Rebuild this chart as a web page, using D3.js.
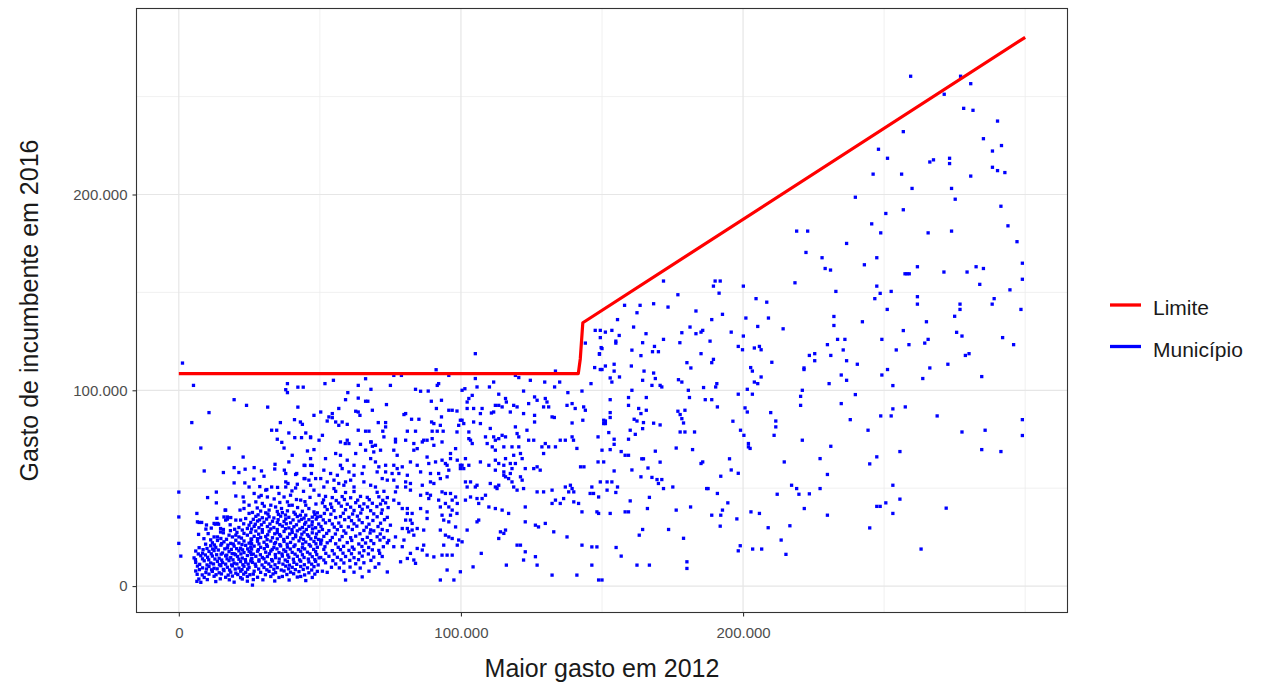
<!DOCTYPE html>
<html>
<head>
<meta charset="utf-8">
<script src="https://cdn.jsdelivr.net/npm/d3@7"></script>
<style>
  body { margin: 0; background: #fff; }
  svg { display: block; }
  text { font-family: "Liberation Sans", Arial, sans-serif; }
</style>
</head>
<body>
<svg id="chart" width="1263" height="686"></svg>
<script>
// Values in R$ thousand: [maior gasto em 2012, gasto do incumbente em 2016]
const municipios = [
  [1.3,113.9],[5.2,102.5],[19.6,95.2],[24,92.3],[10.7,88.6],[4.6,83.5],[31.5,91.4],[38.5,103.4],[37.9,100.3],[38.5,98.8],
  [42.2,101.6],[44.1,101.6],[42.2,91.4],[47.9,87.2],[41,85],[43.1,83.8],[43.8,82.6],[36,83.5],[32.9,79.6],[34.7,79.6],
  [39,78.2],[41.1,75.8],[43.5,75.8],[45,78.2],[46.7,75.8],[34.9,75],[36.5,73.4],[37.3,70.5],[7.8,70.5],[17.8,70.5],
  [22.8,65.9],[40.2,66.8],[39,63.4],[45.6,69],[46.7,65.1],[47.9,69.7],[9,58.8],[15.8,58],[19.6,60.5],[21.3,58],
  [23.5,59.7],[26.7,60.5],[29.3,58.8],[30.2,56.1],[34.1,62.2],[34,59.8],[37.4,59.2],[37.9,57.5],[19.6,52.7],[23.4,52.7],
  [26.6,54.6],[31.2,49.3],[32.9,50.6],[0,48],[13.3,48],[10.2,45.2],[20.2,46],[22.8,45.5],[0,35.3],[0,21.8],
  [0.7,15.3],[6.4,37.1],[7.2,32.5],[8.1,32.5],[7,26.4],[9.6,29.1],[12.9,31.6],[14.1,31.6],[16.6,38.8],[17.2,35.3],
  [16.6,33.7],[41.4,57],[44.7,61.6],[47.3,61.6],[44.7,54.9],[47,57.5],
  [24.9,50.6],[13.3,42.5],[23.1,43],[24.9,41.3],[23.1,39.6],[21.7,38.8],[16.4,38.8],[16,35.3],[17.2,34.2],[18.4,35],
  [20.2,33.7],[21.9,33.7],[23.7,34.5],[24.9,37.1],[6.6,32.8],[12.5,32],[13.7,32],[15.8,28.9],[15.8,27.2],[21.3,29.9],
  [22.5,28.6],[24.3,29.4],[24.9,31.1],[12.5,25.1],[13.7,25.1],[14.9,24.3],[17.8,26],[19,25.1],[20.2,26],[21.3,25.1],
  [23.1,26.9],[24.3,26],
  [11.9,22.1],[13.7,23.3],[16,22.6],[18.4,21.8],[20.2,23.4],[21.3,22],[23.1,23],[24.9,21.9],
  [7.2,19.6],[11.3,20.6],[13.1,19.8],[14.9,20.9],[17.2,19.5],[19.6,20.4],[21.9,19.3],[23.7,20.8],[25.5,19.9],
  [6,17.9],[8.4,16.8],[10.7,17.7],[12.5,18.1],[15.5,16.9],[17.8,17.6],[19.6,16.5],[21.3,18],[23.1,17.1],[24.9,17.8],
  [5.4,14.4],[7.8,15.5],[10.2,14.7],[11.9,15.3],[14.3,14.2],[16.6,15.4],[18.4,14.5],[20.8,15.1],[22.5,14.3],[24.3,15.6],
  [6,12.1],[9,12.9],[11.3,11.8],[13.7,12.6],[15.5,12],[17.8,13],[19.6,11.7],[21.9,12.5],[23.7,12.2],[25.5,12.8],
  [6.6,10.2],[8.4,9.3],[10.7,10],[12.5,9.1],[14.9,10.4],[17.2,9.6],[19,10.3],[21.3,9.2],[23.1,10.1],[24.9,9.5],
  [6,7.7],[9.6,6.9],[11.9,7.5],[14.3,6.8],[16,7.9],[18.4,7.1],[20.2,6.6],[21.9,7.6],[23.7,7],
  [9,4.4],[12.5,5],[16.6,4.5],[19,5.1],[21.9,4.3],[24.3,4.9],
  [6.4,2.4],[7.8,1.9],[13.1,2.3],[19.6,2],[24.3,2.5],
  [9.5,21.4],[12.6,21],[15.2,21.7],[17.4,20.9],[19.3,21.5],[22.4,21.2],[25.8,21.6],
  [8.6,18.6],[10,19.2],[12,18.9],[14,18.4],[16.3,19],[18.6,18.7],[20.5,19.1],[22.6,18.5],[24.4,19],
  [6.9,16.4],[9.4,15.9],[11.5,16.5],[13.4,16],[15,16.3],[17,15.8],[18.9,16.6],[20.1,16],[22,16.4],[25.7,16.1],
  [5.9,13.5],[8.4,13.9],[10.6,13.4],[12.8,13.8],[15.2,13.3],[17.1,13.9],[19.2,13.4],[21.3,13.7],[23.6,13.5],[25.9,14],
  [7.4,11.1],[10,10.8],[12.3,11.3],[14.4,10.9],[16.6,11.2],[18.7,10.8],[20.6,11.3],[22.7,10.9],[24.6,11.2],
  [7.3,8.4],[9.8,8.7],[11.6,8.3],[13.6,8.8],[15.8,8.5],[18,8.2],[20,8.7],[22.4,8.4],[24.4,8.6],
  [6.5,6],[8.3,5.7],[10.7,6.1],[13.2,5.8],[15.1,6.2],[17.5,5.6],[20.9,5.9],[23,6.1],[25.2,5.8],
  [7.1,3.6],[10.1,3.3],[14.7,3.7],[17.9,3.2],[22.5,3.6],[26.4,3.3],
  [8.9,24.2],[10.4,26.8],[11.3,23.6],[14.8,27.6],[16.9,23.9],[18.3,28.3],[20.6,27.4],[22.2,24.5],[25.6,24],[9.8,31.2],
  [11.5,29.6],[18.2,31.3],[19.8,29],[23,31.8],[13.5,34.6],[14.8,29.4],
  [44.4,61.7],[46.7,61.7],[41.8,57.5],[44.4,54.9],[46.1,54.1],[48.5,54.9],[37.9,53.2],[38.7,52.4],[37.9,50.6],[42,52],
  [41.4,50.1],[46.7,51.5],[47.9,49],[49.7,46.4],[30.8,49],[31.4,45.5],[26.7,47.3],[28.4,45.5],[27.3,43],[29.6,42.2],
  [35.5,47.3],[37.3,45.5],[39.6,46.4],[38.5,43],[40.2,41.3],[32.6,41.3],[34.3,40.4],[32,38.8],[43.2,43.9],[45,41.3],
  [46.1,39.6],[47.9,37.9],[49.1,35.3],[45,36.2],[47.3,32.8],
  [27.8,39.9],[30.3,40.8],[35.8,42.7],[36.4,39.6],[39.1,41.2],[42.1,40.1],[44.7,43.1],[29.2,46.3],[33.8,44.5],[41.7,44.2],
  [46.5,45.3],[48.6,41.9],[35,50.4],[40.1,48.6],[44.2,48.4],[28.7,50.8],
  [26.1,37.6],[29,38.3],[30.8,37.4],[34.9,38.1],[36.7,37.5],[38.5,38.4],[40.8,37.7],[43.8,38.2],[49.1,37.4],
  [27.3,35.6],[29.6,34.9],[32,35.4],[33.7,34.8],[36.1,35.7],[39,35.1],[42,35.5],[44.4,34.7],[47.3,35.2],
  [25.5,32.5],[27.9,33.2],[30.2,32.6],[33.2,33.1],[34.9,32.4],[37.3,33],[39.6,32.3],[42.6,33.2],[45,32.6],
  [26.7,30.5],[28.4,29.8],[31.4,30.4],[33.7,29.9],[36.7,30.6],[39,29.7],[40.8,30.3],[43.8,29.9],[46.1,30.5],[48.5,29.8],
  [25.5,27.4],[27.3,28.1],[29.6,27.5],[32,28],[34.9,27.3],[37.3,27.9],[40.2,27.4],[42,28.2],[44.4,27.6],[47.3,27.2],[49.7,27.9],
  [26.7,25.4],[29,24.8],[30.8,25.3],[33.2,24.7],[36.1,25.5],[38.5,24.9],[41.4,25.2],[43.2,24.6],[46.1,25.4],[48.5,24.8],
  [25.5,22.3],[27.9,22.9],[30.2,22.4],[32.6,23],[34.3,22.2],[37.3,22.8],[39.6,22.3],[42.6,23.1],[45,22.5],[47.9,22.8],[50.3,22.2],
  [26.7,20.4],[29,19.8],[31.4,20.3],[33.7,19.7],[36.1,20.5],[38.5,19.9],[40.8,20.2],[43.8,19.6],[46.7,20.4],[49.1,19.8],
  [25.5,17.2],[27.9,17.8],[30.8,17.3],[32.6,17.9],[35.5,17.1],[37.9,17.7],[40.2,17.2],[43.2,17.8],[45.6,17.3],[48.5,17.6],
  [27.3,15.2],[29.6,14.6],[31.4,15.1],[34.3,14.5],[36.7,15.3],[39,14.7],[42,15.2],[44.4,14.6],[47.3,15],[49.7,14.4],
  [26.1,12.1],[28.4,12.7],[30.8,12.2],[33.2,12.8],[35.5,12],[38.5,12.6],[40.8,12.1],[43.2,12.7],[46.1,12.3],[48.5,12.6],
  [27.3,10.1],[30.2,9.5],[32.6,10],[34.9,9.4],[37.9,10.2],[40.2,9.6],[43.2,10],[45.6,9.3],[47.9,9.9],
  [26.7,7.6],[29,7],[32,7.5],[34.3,6.9],[37.3,7.7],[39.6,7.1],[42.6,7.4],[46.1,6.8],[49.1,7.5],
  [27.9,4.5],[32.6,4.9],[35.5,4.4],[36.7,4.9],[42,4.6],[43.2,4.9],[47.3,4.4],[26.1,0.5],
  [28.1,36.4],[31.6,36.8],[35.3,36.6],[37.8,36.3],[41.3,36.7],[43.1,36.2],[48.2,36.5],
  [26.4,34.1],[28.6,33.8],[31.1,34.2],[35.2,33.9],[37.9,34.3],[40.5,33.8],[43.5,34.1],[46.1,33.9],[48.7,34.2],
  [27.1,31.6],[29.3,31.3],[32.3,31.7],[35.8,31.4],[38.1,31.8],[41.7,31.3],[44.6,31.6],[47.2,31.2],[49.6,31.7],
  [25.8,29.1],[29.6,28.8],[32.6,29.2],[34.9,28.9],[37.8,29.3],[40.1,28.8],[42.9,29.1],[45.2,28.9],[47.4,29.2],
  [28.3,26.5],[31.5,26.2],[34,26.7],[35.7,26.3],[39.3,26.6],[41.4,26.1],[43.6,26.5],[45.6,26.2],[48.8,26.6],
  [25.8,23.9],[27.9,24.2],[31.3,23.7],[34.9,24.1],[37.2,23.8],[40.5,24.2],[44.2,23.8],[46.8,24.1],[49.5,23.8],
  [28.4,21.5],[31.1,21.1],[33.9,21.6],[35.8,21.2],[38.4,21.4],[41.2,21],[43.9,21.5],[46.2,21.2],[48.6,21.6],
  [25.8,18.9],[28.2,18.6],[30.3,19.1],[33.1,18.7],[34.8,19],[37.2,18.5],[39.5,18.9],[42.4,18.6],[44.6,19],[47.8,18.7],
  [26.4,16.3],[28.9,16],[32.1,16.5],[34.2,16.1],[36.6,16.4],[38.6,15.9],[41.2,16.3],[43.8,16],[46.5,16.4],[48.9,16.1],
  [25.7,13.8],[28.4,13.4],[30.2,13.9],[32.9,13.5],[35.6,13.8],[37.7,13.3],[40.6,13.7],[42.8,13.4],[45.9,13.8],[48.2,13.5],
  [27.1,11.2],[29.5,10.8],[31.9,11.3],[34.1,10.9],[36.9,11.2],[39.2,10.7],[41.8,11.1],[44.5,10.9],[47.1,11.2],[49.4,10.8],
  [28.3,8.7],[31.2,8.3],[33.7,8.6],[36.3,8.2],[38.9,8.8],[41.3,8.4],[44.1,8.5],[47.1,8.2],
  [26.4,6.1],[30.7,5.8],[33.4,6.2],[38.3,5.9],[40.7,6.3],[44.6,5.7],[48.2,6.1],
  [29.8,3.2],[34,2.6],[39.1,3.1],[45,2.8],
  [57.3,73.6],[59,72.8],[64.4,72.4],[68,73.6],[69.7,71.9],[55.6,67.7],[57.3,66.8],[62.7,67.7],[66.2,69.4],[69.1,68.5],
  [71.5,69.4],[52,65.1],[59.7,64.3],[68,65.1],[69.7,63.4],[57.3,61.7],[57.9,60],[62.1,61.7],[65.6,60.9],[70.9,60.9],
  [73.3,61.7],[51.4,59.2],[53.8,57.5],[56.2,56.6],[60.3,58.3],[62.1,56.6],[65,57.5],[70.3,58.3],[73.3,58.3],[50.3,54.9],
  [52.6,53.2],[55,54.1],[56.7,52.4],[59.1,53.2],[60.9,54.1],[65.6,53.2],[72.1,54.9],[73.9,54.1],[51.4,50.6],[55,49.8],
  [58.5,51.5],[62.1,50.6],[68,51.5],[69.7,50.6],
  [55.6,48.4],[59.1,47.8],[62.1,48.3],[70.3,47.9],[72.7,48.4],
  [52,45.8],[54.4,45.2],[57.9,45.7],[60.9,45.1],[64.4,45.8],[66.8,45.3],[70.9,45.6],[73.9,45.2],
  [50.9,42.5],[53.8,41.9],[56.7,42.4],[59.7,41.8],[62.7,42.6],[65.6,42],[68.6,42.3],[71.5,41.9],[73.3,42.5],
  [52.6,39.1],[55,38.5],[59.1,39],[62.1,38.6],[65,39.2],[68,38.5],[72.1,38.9],
  [50.3,35.6],[55.6,35],[57.3,35.5],[60.3,35.1],[63.3,35.7],[66.8,35],[70.3,35.4],[73.9,35.1],
  [52,32.3],[54.4,31.7],[56.7,32.2],[62.1,31.8],[65,32.4],[67.4,31.6],[71.5,32.1],
  [50.9,28.9],[53.2,28.3],[56.2,28.8],[58.5,28.2],[61.5,28.9],[65.6,28.4],[68,28.7],[69.1,28.2],[72.1,28.9],[73.9,28.3],
  [51.4,25.4],[54.4,24.8],[57.9,25.3],[60.9,24.7],[62.7,25.5],[66.8,24.9],[70.3,25.2],[72.7,24.8],
  [50.3,21.5],[52.6,22.1],[55.6,21.6],[59.7,22.2],[63.8,21.5],[66.2,22],[69.1,21.7],[73.9,22.1],
  [51.4,18.7],[54.4,18.1],[57.3,18.6],[60.3,18.2],[62.1,18.8],[65.6,18.1],[68.6,18.5],[70.9,18.2],
  [50.3,14.6],[53.2,15.2],[56.2,14.7],[59.1,15.1],[62.1,14.5],[65,15.3],[69.1,14.8],[72.1,15.1],
  [52,11.9],[55.6,11.3],[58.5,11.8],[62.7,11.4],[65.6,11.9],[70.9,11.4],
  [50.9,7.6],[52.6,7],[58.5,7.5],[62.1,7.1],[67.4,7.6],[73.9,7.2],[65,4.7],[59.1,3.1],
  [51.3,44],[55.8,43.7],[58.7,44.2],[63.4,43.9],[67.5,44.1],[72.3,43.8],
  [51.8,40.6],[54.2,40.2],[57.6,40.8],[60.9,40.3],[64.1,40.7],[66.9,40.4],[70.2,40.6],[74.2,40.1],
  [51.6,37.1],[53.9,36.7],[58.3,37.2],[61.6,36.8],[64.5,37.3],[69.1,36.9],[71.8,37.2],
  [51.2,33.8],[53.4,33.5],[58.8,33.9],[61.2,33.4],[63.9,33.8],[68.8,33.5],[72.9,33.9],
  [50.4,30.4],[55.1,30.1],[57.5,30.5],[60.1,30.2],[63.1,30.6],[66.5,30.1],[70.6,30.4],
  [52.4,26.9],[55.5,26.6],[59.2,27],[64.2,26.7],[67.8,27.1],[71.4,26.6],
  [50.6,23.5],[53.7,23.2],[57,23.6],[61.3,23.3],[65.1,23.7],[68.1,23.2],[71.3,23.5],[74.4,23.3],
  [51.8,20.1],[56.5,19.8],[58.4,20.3],[61.5,19.9],[64.9,20.2],[67.3,19.7],[72.5,20.1],
  [52.1,16.7],[55.1,16.4],[58.2,16.8],[61.2,16.5],[64,16.9],[67.2,16.4],[71.2,16.7],
  [51.4,13.3],[54.6,13],[57.5,13.4],[60.6,13.1],[63.7,13.5],[68.1,13.1],
  [54.1,9.6],[56.9,9.3],[60.7,9.7],[64.3,9.2],[69.6,9.6],
  [76.8,73.6],[83.3,72.8],[86.3,73.6],[90.4,71.9],[76.2,69.4],[77.4,66.8],[83.3,69.4],[84.5,70.2],[96.3,67.7],[98.1,70.2],
  [88,65.9],[82.1,63.4],[84.5,61.7],[88.6,62.6],[91,63.4],[93.3,64.3],[95.1,61.7],[98.7,64.3],[76.2,61.7],[77.4,60],
  [79.2,60.9],[75.6,57.5],[78,57.5],[81,56.6],[85.7,58.3],[89.2,57.5],[92.1,57.5],[95.7,59.2],[76.2,54.1],[80.4,53.2],
  [82.1,52.4],[89.2,53.2],[90.4,52.4],[92.7,54.9],[95.1,55.8],[77.4,50.6],[80.4,50.6],[82.1,49],[86.3,51.5],[76.8,48.1],
  [85.7,46.4],[88,47.3],[89.2,46.4],[93.3,48.1],[94.5,47.3],[76.2,43.9],[78,42.2],[88.6,44.7],[92.1,43.9],[96.9,43.9],
  [98.7,42.2],[79.2,39.6],[81,39.6],[85.7,39.6],[88,37.9],[92.7,40.4],[96.9,38.8],[81,37.1],[82.7,37.1],[88,34.5],
  [93.3,36.2],[93.9,33.7],[95.7,32.8],[80.4,33.7],[82.1,33.7],[82.7,32],[75,31.1],[79.2,29.4],[81,29.4],[82.7,28.6],
  [84.5,29.4],[86.8,28.6],[92.7,28.6],[94.5,26],[95.7,25.1],[96.9,24.3],[76.8,25.1],[79.8,23.5],[83.3,26],[81.5,27.7],
  [76.2,20.1],[79.2,20.1],[84.5,19.2],[86.8,20.9],[86.3,18.4],[93.9,20.9],[98.7,20.9],[82.1,16.7],[88,15.8],[90.4,14.9],
  [93.3,15.8],[95.1,15.8],[96.9,15.8],[81,14.1],[83.3,13.3],[78.6,12.4],[83.9,11.6],[95.1,8.2],[92.7,3.1],[97.5,3.1],
  [51.8,103.4],[54.8,105.1],[63.6,102.5],[66.2,105.9],[76.2,107.6],[78.9,107.6],[91.2,110.5],[95.7,107.6],[68.1,100.5],[75,102.5],
  [83.9,100.5],[85.7,99.5],[88.4,99.6],[91.6,102.5],[92.1,103.4],[59.9,98.8],[59.1,95.2],[63.6,96],[66.2,94.4],[67,94.4],
  [73.6,92.7],[89.5,94.4],[93.1,94.9],[56.7,90.7],[54.4,88.1],[53.2,86.4],[50.3,88.9],[62.7,89.3],[63.6,88.9],[64.2,87.2],
  [68.6,89.8],[79.8,87.6],[80.4,88.1],[82.5,85.2],[85.1,85.2],[91.3,90.7],[89.6,83.8],[93.1,86.4],[95.7,89.8],[96.9,89.8],
  [52.6,84.3],[54.4,86],[55.6,83.8],[56.7,82.1],[57.9,83.8],[59.7,82.6],[63.6,79.6],[66.2,79.1],[67.4,79.1],[70.7,83.5],
  [73.3,83.5],[73.3,81.3],[72.3,79.1],[72.7,76.2],[81,79.1],[83.9,79.1],[89.8,79.1],[91.6,79.1],[93.7,79.1],[92.7,82.1],
  [90.4,83],[46.7,76.2],[49.7,74.5],[50.9,77],[59.7,74.5],[60.3,72.8],[68.2,73.6],[68.6,71.4],[76.8,75],[80.4,74.5],
  [86.8,74.5],[88,74.5],[89.8,75.3],[93.3,73.6],
  [105.1,118.7],[144.1,124.1],[149.7,121.8],[149.1,118.4],[150,110.6],[147.4,111.6],[119.3,107.6],[120.5,106.5],[133.5,109.8],[105.1,106],
  [111.6,104.2],[110.1,101.7],[105.7,101.7],[122.2,99.6],[124.6,105.1],[129.7,104.2],[135,104.2],[133.2,101.7],[146.1,103.4],[142.9,99.6],
  [137.9,98.8],[100.4,100],[101.4,100.8],[102.8,95.8],[104,97.4],[102.2,94],[113.4,98],[115.8,95.8],[116.1,94],[112.2,92.3],
  [113.4,92.3],[111.6,88.9],[114.6,91.5],[98.6,89.4],[102.2,90.7],[104.5,90.7],[107.5,90.7],[110.8,88.4],[106.9,88.1],[118.7,92.3],
  [119.9,91.5],[117.5,88.9],[122.2,88.1],[124,93.2],[126.1,96.6],[127,94.9],[129.9,95.8],[130.5,94],[129.3,91.5],[131.1,91.5],
  [132.3,86.4],[133.1,86.1],[126.1,87.2],[126.1,83.8],[137.6,92.3],[139.4,93.2],[140.5,90.7],[143.5,91.5],[144.1,89.8],[143.2,84.7],
  [139.4,83.3],[150.6,84.7],[150.6,83],[99.8,84.7],[100.4,84.7],[101,83],[99.2,82.1],[98.6,78.7],[104.5,83.8],[106.9,83],
  [102.8,78.7],[103.4,74.5],[104,72.8],[102.8,75.3],[110.4,80.5],[111.6,76.2],[112.2,74.5],[113.4,75.3],[114.6,77],[115.8,76.2],
  [108.7,76.2],[109.3,72.8],[115.2,71.1],[111.1,71.1],[112.2,69.4],[119.3,81.3],[119.9,77.9],[120.5,76.2],[123.4,79.6],[124,74.5],
  [125.8,74.5],[118.1,71.1],[120.5,71.1],[118.7,66.8],[121.1,67.7],[121.7,65.1],[128.7,71.1],[129.3,67.7],[131.1,71.1],[133.5,71.1],
  [129.9,72.8],[135.2,74.5],[137,74.5],[139.4,76.2],[139.9,74.5],[141.1,70.3],[142.4,60.9],[143.6,60.9],[148.6,76.2],[150,69.4],
  [148.6,63.4],[96.3,65.1],[94.5,62.6],[99.8,61.7],[100.4,61.7],[99.8,60],[101,60],[102.8,61.7],[101.6,65.1],[106.9,63.4],
  [109.9,61.7],[112.2,64.3],[113.4,62.6],[115.8,65.1],[115.2,61.7],[117.5,62.6],[118.1,60],[117.5,57.5],[112.2,59.2],[115.2,58.3],
  [115.8,55.8],[116.9,54.9],[118.1,53.2],[115.2,56.6],[118.7,50.6],[121.1,55.8],[121.7,54.1],[122.2,49.8],[119.9,49],[122.8,60],
  [119.3,62.6],[110.4,52.4],[112.2,50.6],[113.4,51.5],[112.8,49.8],[101.6,53.2],[102.2,50.6],[103.4,53.2],[105.1,50.6],[105.7,51.5],
  [96.3,47.3],[98.1,45.5],[101.6,43.9],[103.4,45.5],[106.3,42.2],[105.7,44.7],[107.5,44.7],[108.7,46.4],[109.9,40.4],[112.2,39.6],
  [114.6,38.8],[116.9,37.1],[122.8,40.4],[125.8,60],[127,60.9],[128.1,59.2],[127,48.1],[129.3,48.1],[132.3,49],[133.5,43.9],
  [132.3,42.2],[136.4,44.7],[135.2,42.2],[137,50.6],[138.8,51.5],[139.4,49.8],[138.2,48.1],[140,48.1],[140,43],[141.7,42.2],
  [142.9,37.9],[146.4,50.6],[145.8,47.3],[147,47.3],[148.2,37.9],[148.8,37.1],[149.4,53.2],[148.8,45.5],[122.8,32.8],[126.4,31.1],
  [127.5,30.2],[129.9,32],[132.9,27.7],[137.6,25.1],[114,27.7],[115.2,26.9],[115.8,28.6],[113.4,24.3],[105.7,32.8],[106.3,33.7],
  [102.2,28.6],[94.5,42.2],[95.7,40.4],[98.6,37.1],[96.3,36.2],[98.1,30.2],[99.2,23.5],[100.4,22.6],[119.9,20.9],[121.1,20.9],
  [122.8,17.5],[122.2,13.3],[126.4,15],[127,10.7],[116.1,10.7],[107.2,16.7],[104.3,9.8],[99.8,7.3],[132.3,5.6],[141.1,5.6],
  [142.9,20.9],[146.4,20],[148.2,20],[146.4,10.7],[148.8,3.1],[150,3.1],
  [171.8,155.8],[190.1,155.8],[191.9,155.8],[189.5,153.2],[191.5,149.6],[200.1,153.2],[218.4,154.9],[176.9,148.8],[158,143.4],[163.5,143.4],
  [168.3,144.2],[173.4,142.5],[162.4,139.6],[183.3,140.5],[188.9,136.1],[192.7,138.8],[204.6,146.8],[208.4,145],[209,136.9],[155.5,136.1],
  [161.2,132.3],[165.6,128.9],[171.8,126],[168.6,122.4],[167.9,119.7],[170,119.7],[164.4,124.3],[163.8,117.7],[160.6,120.5],[147.6,130.6],
  [149.4,130.6],[151.2,129.7],[153.5,130.6],[149.4,126.9],[156.1,128],[154.9,125.1],[154.9,124.1],[150,121.3],[149.1,118.7],[181.2,132.3],
  [178.3,129.4],[183.3,128.9],[185.1,129.7],[185.7,130.6],[188.3,125.1],[177.6,124.3],[185.1,118.7],[180.1,114.1],[181.5,111.4],[189.5,115.8],
  [188.9,114.1],[195.8,129.7],[201,136.9],[200.1,127.7],[198.3,122.4],[199.8,120.7],[205.2,132.6],[204,121.6],[205.8,122.4],[206.4,120.7],
  [214.2,131.4],[210.2,114.3],[202.7,111.6],[203.3,109.8],[206.4,106.8],[204,104.2],[205.2,103.4],[151.2,112.4],[149.4,110.6],[154.3,109.8],
  [152.9,106.3],[153.5,104.2],[156.2,106.8],[154.3,113.3],[160.4,112.4],[164.9,109.8],[168.3,108.8],[168.9,106],[164.4,105.1],[167.7,102.5],
  [170.6,102.5],[171.2,101.7],[177.1,105.4],[178.3,104.2],[180.6,100],[181,96.3],[186,101.4],[186.6,95.2],[188.9,95.2],[190.9,91.5],
  [190.7,103.4],[190.3,101.7],[198.3,98],[200.7,91],[201.5,88.9],[203.3,98],[201.5,100.5],[196.4,84.2],[199.1,79.6],[200.3,77],
  [201.9,72.8],[201.9,71.1],[202.5,70.3],[209.8,88.6],[211.6,84.3],[211.6,81.3],[211,77],[214.6,63.4],[221,74.5],[221,100],
  [220.4,96.9],[220.4,92.3],[152.9,95.2],[152.9,88.6],[152.9,86.1],[151.2,84.3],[151.2,83],[152.4,78.4],[154.3,75],[154.3,72.4],
  [152.9,69.7],[150.6,63.4],[154.3,58.8],[151.8,53.2],[153.5,53.2],[151.8,49],[155.5,50.6],[154.9,47.8],[159.4,96.3],[159.4,92.3],
  [160.6,100],[163,90.7],[163.8,88.1],[165.7,96.3],[165.7,89.8],[161.4,85.2],[162.4,84.3],[164.7,83.5],[164.4,80.4],[160,79.6],
  [161.8,77.5],[159.4,75],[156.8,68.7],[158.2,66.8],[159.4,66.8],[164.1,65],[164.7,65],[166.3,60.3],[163.8,55.8],[160.6,59.3],
  [168.9,68.9],[170.6,63.3],[167.7,55.5],[169.5,54.4],[170,52.4],[171.2,54.4],[171.8,49.8],[175.1,50.6],[168.3,83.2],[170.6,82.3],
  [176.9,89.3],[177.7,87.6],[178.3,85.5],[178.9,83.3],[177.7,78.7],[179.4,78.7],[182.8,78.7],[179.4,89.8],[182.1,69.7],[176.3,70.5],
  [185.7,63.4],[185.1,62.6],[187.1,49.8],[187.6,49.8],[181.4,40.4],[190.9,47.3],[192.1,56.1],[195.2,65],[195.8,59.3],[198.3,57.6],
  [176.3,38.8],[173.6,28.9],[178.9,24.4],[180.1,12.4],[180.1,9],[166.8,10.7],[162.4,10.7],[156.8,15.3],[155,19.7],[164.4,28.9],
  [163.2,26],[160,43.5],[166.8,45.3],[166.1,39.6],[158.2,37.9],[159.4,37.9],[152.9,37.1],[188.9,36.2],[192.1,36.2],[191.9,30.6],
  [192.7,38.8],[194.6,42.5],[197.8,34.3],[199,20.6],[198.3,18],[202.8,37.9],[205.8,37.1],[203.4,18.9],[206.6,18.9],[208.9,29.8],
  [212.1,46.9],[213.5,23.5],[215.2,16.2],[216.6,30.8],[217.2,51.5],[219,49.8],[219.8,46.9],[221.7,39.6],
  [259.4,260.4],[277.1,260.4],[280.7,256.6],[271.3,251.2],[278.2,244],[281.5,243],[290.2,237.5],[256.8,232.1],[285.2,228.5],[288.4,222.2],
  [291.6,225],[248,223.1],[251.2,218.5],[266.2,216.6],[267.5,217.7],[273.2,218.5],[273.2,215.8],[246.1,210.4],[256.2,210.4],[259.9,203.1],
  [280.7,209.4],[288.4,213.9],[290.2,212.2],[292.8,211.2],[273.9,203.1],[275.2,197.6],[239.8,198.6],[256.8,192.2],[250.6,190.3],[291.4,194],
  [245.6,185],[248.8,180.4],[219,181.3],[222.9,181.3],[236.7,175],[222.3,170.4],[228,167.7],[243,164.1],[247.4,167.7],[265.6,180.4],
  [273.9,181.3],[293.9,184],[297.1,175.9],[229.1,162.2],[231,161.4],[232.9,150.5],[247.4,153.2],[248.6,149.5],[246.7,146.8],[252.5,150.5],
  [257.4,159.5],[258.1,159.5],[258.9,159.5],[261.8,163.1],[271.2,160.4],[279.4,160.4],[282.6,163.1],[285.2,162.2],[283.9,154.1],[299,164.9],
  [299,156.7],[294.6,151.3],[289,146.8],[288.3,144],[276.9,144],[276.9,141.3],[275,137.8],[265,135],[261.8,144],[261.8,147.8],
  [251.1,141.3],[232.2,137.7],[232.2,133.1],[242.3,135],[298.5,141.3],
  [256.8,130.5],[275.7,129.6],[277.6,127.7],[292,126.9],[295.9,123.3],[229.9,123.3],[233.5,126],[236.1,126],[249.2,126],[254.3,120.6],
  [258.8,123.3],[264.4,124.1],[265.6,126],[223.5,117.8],[225.4,118.7],[225.4,115.1],[231.1,117.8],[235.5,120.6],[236.7,115.1],[240.5,113.3],
  [221.6,111.4],[221.6,110.6],[278.8,117.8],[280.1,118.7],[272.6,113.3],[266.2,111.4],[263.7,106],[284.6,107],[251.2,110.6],[249.2,107.8],
  [253.1,102.4],[234.8,107.8],[236.7,105.1],[230.5,103.4],[239.8,97.8],[234.8,93.2],[238,85],[244.3,79.6],[231.1,71.4],[227.3,65.1],
  [247.4,66],[244.9,62.4],[229.9,57],[248.8,86.9],[252.5,86.9],[253.1,90.5],[257.5,91.5],[268.8,86.9],[277.6,78.7],[285.8,79.6],
  [299,85],[299,76.9],[284.6,69.7],[291.4,68.7],[255.6,68.7],[223.5,47.1],[227.3,49.8],[229.9,36.2],[244.9,29.7],[247.4,40.7],
  [248.6,40.7],[250.6,42.5],[253.1,51.5],[253.1,37.1],[255.6,44.4],[272,39.8],[263.1,18.9]
];

// Spending limit (R$ thousand), traced along the sorted 2012 values
const limite = [[0,108.5],[141.6,108.5],[142.3,116],[143.2,134.5],[300,280.3]];

const xMajor = [0, 100000, 200000];
const xMinor = [50000, 150000, 250000, 300000];
const yMajor = [0, 100000, 200000];
const yMinor = [50000, 150000, 250000];
const legenda = [
  { label: "Limite", color: "#ff0000" },
  { label: "Município", color: "#0000ff" }
];

const svg = d3.select("#chart");
const panel = { left: 136.5, right: 1067.5, top: 8.5, bottom: 612.5 };

const x = d3.scaleLinear().domain([-15000, 315000]).range([panel.left, panel.right]);
const y = d3.scaleLinear().domain([-13500, 295000]).range([panel.bottom, panel.top]);

const ptBR = d3.formatLocale({ decimal: ",", thousands: ".", grouping: [3], currency: ["R$", ""] });
const fmt = ptBR.format(",");

// grid
const grid = svg.append("g");
grid.selectAll(".vminor").data(xMinor).join("line")
  .attr("x1", d => x(d)).attr("x2", d => x(d))
  .attr("y1", panel.top).attr("y2", panel.bottom)
  .attr("stroke", "#ececec").attr("stroke-width", 0.8);
grid.selectAll(".hminor").data(yMinor).join("line")
  .attr("y1", d => y(d)).attr("y2", d => y(d))
  .attr("x1", panel.left).attr("x2", panel.right)
  .attr("stroke", "#ececec").attr("stroke-width", 0.8);
grid.selectAll(".vmajor").data(xMajor).join("line")
  .attr("x1", d => x(d)).attr("x2", d => x(d))
  .attr("y1", panel.top).attr("y2", panel.bottom)
  .attr("stroke", "#e6e6e6").attr("stroke-width", 1.2);
grid.selectAll(".hmajor").data(yMajor).join("line")
  .attr("y1", d => y(d)).attr("y2", d => y(d))
  .attr("x1", panel.left).attr("x2", panel.right)
  .attr("stroke", "#e6e6e6").attr("stroke-width", 1.2);

// points
svg.append("g").selectAll("rect").data(municipios).join("rect")
  .attr("x", d => x(d[0] * 1000) - 1.65)
  .attr("y", d => y(d[1] * 1000) - 1.65)
  .attr("width", 3.3).attr("height", 3.3)
  .attr("fill", "#0000ff");

// limit line
const line = d3.line().x(d => x(d[0] * 1000)).y(d => y(d[1] * 1000));
svg.append("path").datum(limite)
  .attr("d", line).attr("fill", "none")
  .attr("stroke", "#ff0000").attr("stroke-width", 3.2)
  .attr("stroke-linejoin", "round");

// panel border
svg.append("rect")
  .attr("x", panel.left).attr("y", panel.top)
  .attr("width", panel.right - panel.left).attr("height", panel.bottom - panel.top)
  .attr("fill", "none").attr("stroke", "#333333").attr("stroke-width", 1.1);

// axes
const xAxis = d3.axisBottom(x).tickValues(xMajor).tickFormat(fmt).tickSize(4).tickPadding(11);
const gx = svg.append("g").attr("transform", `translate(0,${panel.bottom})`).call(xAxis);
const yAxis = d3.axisLeft(y).tickValues(yMajor).tickFormat(fmt).tickSize(4).tickPadding(5);
const gy = svg.append("g").attr("transform", `translate(${panel.left},0)`).call(yAxis);
[gx, gy].forEach(g => {
  g.select(".domain").remove();
  g.selectAll(".tick line").attr("stroke", "#333333").attr("stroke-width", 1.1);
  g.selectAll(".tick text").attr("fill", "#4d4d4d")
    .style("font-size", "15px").style("font-family", "'Liberation Sans', Arial, sans-serif");
});

// titles
svg.append("text")
  .attr("x", (panel.left + panel.right) / 2).attr("y", 677)
  .attr("text-anchor", "middle").attr("fill", "#1a1a1a")
  .style("font-size", "25px").text("Maior gasto em 2012");
svg.append("text")
  .attr("transform", `translate(38,${(panel.top + panel.bottom) / 2}) rotate(-90)`)
  .attr("text-anchor", "middle").attr("fill", "#1a1a1a")
  .style("font-size", "25px").text("Gasto de incumbente em 2016");

// legend
const leg = svg.append("g").attr("transform", "translate(1110,305)");
const item = leg.selectAll("g").data(legenda).join("g")
  .attr("transform", (d, i) => `translate(0,${i * 41.5})`);
item.append("line").attr("x1", 0).attr("x2", 31).attr("y1", 0).attr("y2", 0)
  .attr("stroke", d => d.color).attr("stroke-width", 3.3);
item.append("text").attr("x", 43).attr("y", 3).attr("dy", "0.35em")
  .attr("fill", "#1a1a1a").style("font-size", "21px").text(d => d.label);
</script>
</body>
</html>
